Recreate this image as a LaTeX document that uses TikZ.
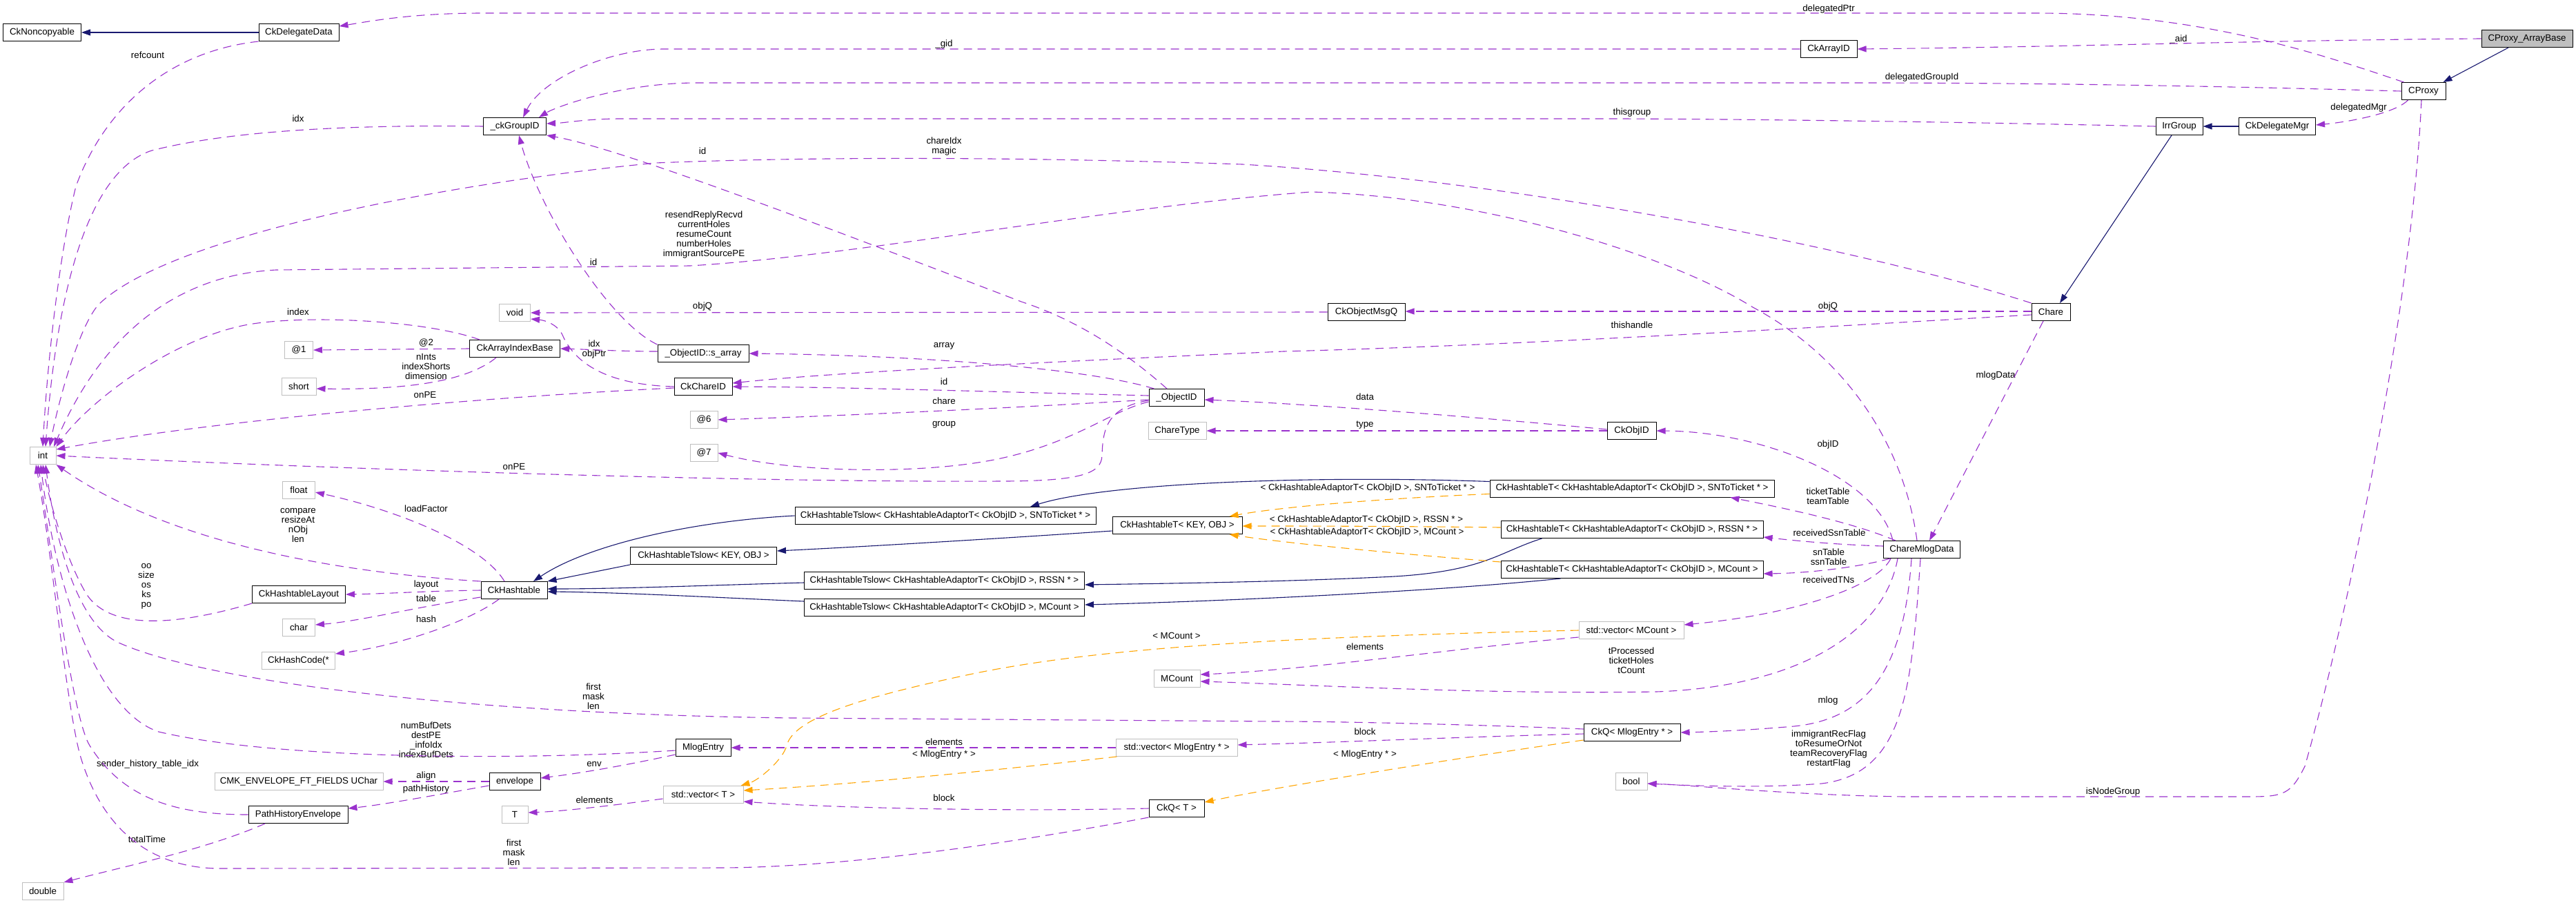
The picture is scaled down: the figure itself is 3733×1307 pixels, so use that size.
\documentclass[tikz,border=0pt]{standalone}
\usepackage{fontspec}
\setmainfont{Liberation Sans}
\usetikzlibrary{arrows.meta}
\definecolor{usecol}{HTML}{9A32CD}
\definecolor{inhcol}{HTML}{191970}
\definecolor{tplcol}{HTML}{FFA500}
\definecolor{boxgray}{HTML}{BFBFBF}
\newcommand\dxf{\fontsize{13.3pt}{14pt}\selectfont}
\begin{document}
\begin{tikzpicture}[x=1pt,y=-1pt,
  cls/.style={draw=black, line width=1pt, minimum height=25pt, inner sep=0pt, font=\dxf},
  ext/.style={cls, draw=boxgray},
  lbl/.style={font=\dxf, align=center, inner sep=0pt},
  edgebase/.style={line width=1.1pt, -{Triangle[length=13pt,width=9pt]}},
  edgeuse/.style={edgebase, draw=usecol, fill=none, dash pattern=on 12pt off 8pt},
  edgeinh/.style={edgebase, draw=inhcol},
  edgetpl/.style={edgebase, draw=tplcol, dash pattern=on 12pt off 8pt}
]
\fill[white] (0,0) rectangle (3733,1307);
\useasboundingbox (0,0) rectangle (3733,1307);

% ---------- class boxes ----------
\node[cls, minimum width=113pt] (nonc) at (61,47) {CkNoncopyable};
\node[cls, minimum width=116pt] (dd) at (433,47) {CkDelegateData};
\node[cls, minimum width=91pt] (gid) at (746,183) {\_ckGroupID};
\node[cls, minimum width=82pt] (aid) at (2650,71) {CkArrayID};
\node[cls, fill=boxgray, minimum width=132pt] (cpab) at (3662,56) {CProxy\_ArrayBase};
\node[cls, minimum width=64pt] (cp) at (3512,132) {CProxy};
\node[cls, minimum width=68pt] (irr) at (3158,183) {IrrGroup};
\node[cls, minimum width=111pt] (dmgr) at (3300,183) {CkDelegateMgr};
\node[cls, minimum width=56pt] (chare) at (2972,452) {Chare};
\node[cls, minimum width=111pt] (cmd) at (2785,796) {ChareMlogData};
\node[ext, minimum width=45pt] (tvoid) at (746,453) {void};
\node[cls, minimum width=131pt] (aib) at (746,505) {CkArrayIndexBase};
\node[ext, minimum width=41pt] (a1) at (433,507) {@1};
\node[ext, minimum width=50pt] (tshort) at (433,560) {short};
\node[ext, minimum width=38pt] (tint) at (62,660) {int};
\node[ext, minimum width=47pt] (tfloat) at (433,710) {float};
\node[cls, minimum width=96pt] (ht) at (745,855) {CkHashtable};
\node[cls, minimum width=135pt] (htl) at (433,861) {CkHashtableLayout};
\node[cls, minimum width=112pt] (omq) at (1980,452) {CkObjectMsgQ};
\node[cls, minimum width=132pt] (sarr) at (1019,512) {\_ObjectID::s\_array};
\node[cls, minimum width=84pt] (cid) at (1019,560) {CkChareID};
\node[cls, minimum width=80pt] (oid) at (1705,576) {\_ObjectID};
\node[ext, minimum width=40pt] (a6) at (1020,608) {@6};
\node[ext, minimum width=84pt] (ctype) at (1706,624) {ChareType};
\node[ext, minimum width=40pt] (a7) at (1020,656) {@7};
\node[cls, minimum width=436pt] (htsSN) at (1370,747) {CkHashtableTslow< CkHashtableAdaptorT< CkObjID >, SNToTicket * >};
\node[cls, minimum width=188pt] (htT) at (1706,761) {CkHashtableT< KEY, OBJ >};
\node[cls, minimum width=212pt] (htsKO) at (1019.5,805) {CkHashtableTslow< KEY, OBJ >};
\node[cls, minimum width=406pt] (htsRS) at (1368.5,841) {CkHashtableTslow< CkHashtableAdaptorT< CkObjID >, RSSN * >};
\node[cls, minimum width=406pt] (htsMC) at (1368.5,880) {CkHashtableTslow< CkHashtableAdaptorT< CkObjID >, MCount >};
\node[cls, minimum width=71pt] (objid) at (2364.5,624) {CkObjID};
\node[cls, minimum width=412pt] (htTSN) at (2365,707.5) {CkHashtableT< CkHashtableAdaptorT< CkObjID >, SNToTicket * >};
\node[cls, minimum width=380pt] (htTRS) at (2365,767) {CkHashtableT< CkHashtableAdaptorT< CkObjID >, RSSN * >};
\node[cls, minimum width=380pt] (htTMC) at (2365,825) {CkHashtableT< CkHashtableAdaptorT< CkObjID >, MCount >};
\node[ext, minimum width=47pt] (tchar) at (433,909) {char};
\node[ext, minimum width=106pt] (hcode) at (432.5,957) {CkHashCode(*};
\node[ext, minimum width=244pt] (cmk) at (433,1132) {CMK\_ENVELOPE\_FT\_FIELDS UChar};
\node[cls, minimum width=74pt] (env) at (746,1132) {envelope};
\node[cls, minimum width=144pt] (phe) at (432,1180) {PathHistoryEnvelope};
\node[ext, minimum width=38pt] (tT) at (746,1180) {T};
\node[ext, minimum width=60pt] (tdouble) at (62,1291) {double};
\node[ext, minimum width=67pt] (mcount) at (1705.5,983) {MCount};
\node[cls, minimum width=80pt] (mle) at (1019,1083) {MlogEntry};
\node[ext, minimum width=176pt] (vmle) at (1705,1083) {std::vector< MlogEntry * >};
\node[ext, minimum width=116pt] (vT) at (1019,1151) {std::vector< T >};
\node[cls, minimum width=80pt] (ckqT) at (1705,1171) {CkQ< T >};
\node[ext, minimum width=152pt] (vmc) at (2364,913) {std::vector< MCount >};
\node[cls, minimum width=140pt] (ckqM) at (2365,1061) {CkQ< MlogEntry * >};
\node[ext, minimum width=46pt] (tbool) at (2364,1132) {bool};

% ---------- labels ----------
\node[lbl] (l01) at (214,80) {refcount};
\node[lbl] (l02) at (432,172) {idx};
\node[lbl] (l03) at (860,380) {id};
\node[lbl] (l04) at (1368,64) {\_gid};
\node[lbl] (l05) at (1368,212) {chareIdx\\magic};
\node[lbl] (l06) at (1018,219) {id};
\node[lbl] (l07) at (1020,340) {resendReplyRecvd\\currentHoles\\resumeCount\\numberHoles\\immigrantSourcePE};
\node[lbl] (l08) at (2650,13) {delegatedPtr};
\node[lbl] (l09) at (2785,112) {delegatedGroupId};
\node[lbl] (l10) at (2365,163) {thisgroup};
\node[lbl] (l11) at (3157,57) {\_aid};
\node[lbl] (l12) at (3418,156) {delegatedMgr};
\node[lbl] (l13) at (2892,544) {mlogData};
\node[lbl] (l14) at (3062,1147) {isNodeGroup};
\node[lbl] (l15) at (432,452) {index};
\node[lbl] (l16) at (617.5,497) {@2};
\node[lbl] (l17) at (617.5,531) {nInts\\indexShorts\\dimension};
\node[lbl] (l18) at (616,572) {onPE};
\node[lbl] (l19) at (861,506) {idx\\objPtr};
\node[lbl] (l20) at (745,676) {onPE};
\node[lbl] (l21) at (432,761) {compare\\resizeAt\\nObj\\len};
\node[lbl] (l22) at (617.5,737) {loadFactor};
\node[lbl] (l23) at (212,849) {oo\\size\\os\\ks\\po};
\node[lbl] (l24) at (617.5,847) {layout};
\node[lbl] (l25) at (617.5,867) {table};
\node[lbl] (l26) at (1018,444) {objQ};
\node[lbl] (l27) at (1368,501) {array};
\node[lbl] (l28) at (1368,553) {id};
\node[lbl] (l29) at (1368,581) {chare};
\node[lbl] (l30) at (1368,615) {group};
\node[lbl] (l31) at (2649,444) {objQ};
\node[lbl] (l32) at (2365,471) {thishandle};
\node[lbl] (l33) at (1978,575) {data};
\node[lbl] (l34) at (1978,616) {type};
\node[lbl] (l35) at (2649,644) {objID};
\node[lbl] (l36) at (1982,707) {< CkHashtableAdaptorT< CkObjID >, SNToTicket * >};
\node[lbl] (l37) at (2649,719) {ticketTable\\teamTable};
\node[lbl] (l38) at (1980,753) {< CkHashtableAdaptorT< CkObjID >, RSSN * >};
\node[lbl] (l39) at (1981,771) {< CkHashtableAdaptorT< CkObjID >, MCount >};
\node[lbl] (l40) at (2651,772) {receivedSsnTable};
\node[lbl] (l41) at (2650,807) {snTable\\ssnTable};
\node[lbl] (l42) at (2650,840) {receivedTNs};
\node[lbl] (l43) at (617.5,897) {hash};
\node[lbl] (l44) at (860,1009) {first\\mask\\len};
\node[lbl] (l45) at (617.5,1072) {numBufDets\\destPE\\\_infoIdx\\indexBufDets};
\node[lbl] (l46) at (214,1107) {sender\_history\_table\_idx};
\node[lbl] (l47) at (861,1107) {env};
\node[lbl] (l48) at (617.5,1124) {align};
\node[lbl] (l49) at (617.5,1143) {pathHistory};
\node[lbl] (l50) at (861.5,1159) {elements};
\node[lbl] (l51) at (213,1216) {totalTime};
\node[lbl] (l52) at (744.6,1235) {first\\mask\\len};
\node[lbl] (l53) at (1705,921) {< MCount >};
\node[lbl] (l54) at (1368,1075) {elements};
\node[lbl] (l55) at (1368,1093) {< MlogEntry * >};
\node[lbl] (l56) at (1368,1156) {block};
\node[lbl] (l57) at (1978,937) {elements};
\node[lbl] (l58) at (2364,957) {tProcessed\\ticketHoles\\tCount};
\node[lbl] (l59) at (2649,1015) {mlog};
\node[lbl] (l60) at (1978,1060) {block};
\node[lbl] (l61) at (1978,1093) {< MlogEntry * >};
\node[lbl] (l62) at (2650,1085) {immigrantRecFlag\\toResumeOrNot\\teamRecoveryFlag\\restartFlag};

% ---------- inheritance ----------
\draw[edgeinh] (dd.west) -- (nonc.east);
\draw[edgeinh] ([xshift=-27pt]cpab.south) -- ([xshift=-4pt]cp.north east);
\draw[edgeinh] (dmgr.west) -- (irr.east);
\draw[edgeinh] ([xshift=-11pt]irr.south) -- ([xshift=13pt]chare.north);
\draw[edgeinh] (htsKO.south west) -- (ht.north east);
\draw[edgeinh] (htsSN.west) .. controls (1000,755) and (850,790) .. ([xshift=28pt]ht.north);
\draw[edgeinh] ([yshift=-3pt]htsRS.west) .. controls (1050,847) and (900,853) .. ([yshift=2pt]ht.east);
\draw[edgeinh] ([yshift=9pt]htsMC.west) .. controls (1050,866) and (900,858) .. ([yshift=-2pt]ht.east);
\draw[edgeinh] ([yshift=-8pt]htT.west) .. controls (1450,780) and (1250,792) .. ([yshift=7pt]htsKO.east);
\draw[edgeinh] ([yshift=10pt]htTSN.west) .. controls (1900,688) and (1600,700) .. ([xshift=123pt]htsSN.north);
\draw[edgeinh] ([xshift=60pt]htTRS.south west) .. controls (2170,800) and (2150,830) .. (2000,836) .. controls (1850,843) and (1700,845) .. ([yshift=-6pt]htsRS.east);
\draw[edgeinh] ([xshift=87pt]htTMC.south west) .. controls (2100,855) and (1800,870) .. ([yshift=4pt]htsMC.east);

% ---------- template instances ----------
\draw[edgetpl] ([yshift=-8pt]htTSN.west) .. controls (2000,722) and (1850,735) .. ([xshift=-19pt]htT.north east);
\draw[edgetpl] ([yshift=3pt]htTRS.west) .. controls (2000,762) and (1900,762) .. ([yshift=-1pt]htT.east);
\draw[edgetpl] ([yshift=11pt]htTMC.west) .. controls (2000,800) and (1850,785) .. ([xshift=-19pt]htT.south east);
\draw[edgetpl] (vmc.west) .. controls (1900,922) and (1600,935) .. (1400,978) .. controls (1250,1010) and (1150,1040) .. (1140,1080) .. controls (1135,1100) and (1100,1130) .. ([xshift=-4pt]vT.north east);
\draw[edgetpl] ([xshift=2pt]vmle.south west) .. controls (1450,1115) and (1250,1135) .. ([yshift=6pt]vT.east);
\draw[edgetpl] ([yshift=2pt]ckqM.south west) .. controls (2100,1100) and (1850,1140) .. ([yshift=-4pt]ckqT.north east);

% ---------- usage ----------
\draw[edgeuse] ([xshift=4pt]cp.north west) .. controls (3380,85) and (3200,19) .. (2950,19) -- (700,19) .. controls (600,19) and (540,30) .. ([yshift=9pt]dd.east);
\draw[edgeuse] (cpab.west) .. controls (3300,58) and (3000,68) .. (aid.east);
\draw[edgeuse] (aid.west) -- (960,71) .. controls (880,72) and (785,115) .. ([xshift=12pt]gid.north);
\draw[edgeuse] (cp.west) .. controls (3300,127) and (3000,120) .. (2700,120) -- (1010,120) .. controls (900,120) and (805,155) .. ([xshift=35pt]gid.north);
\draw[edgeuse] (irr.west) .. controls (2900,178) and (2600,173) .. (2350,172) -- (900,172) .. controls (850,172) and (820,178) .. ([yshift=4pt]gid.east);
\draw[edgeuse] ([xshift=10pt]cp.south west) .. controls (3470,165) and (3400,177) .. ([yshift=2pt]dmgr.east);
\draw[edgeuse] (chare.north west) .. controls (2700,360) and (2200,262) .. (1800,238) .. controls (1500,228) and (1200,226) .. (950,236) .. controls (650,265) and (250,340) .. (144,440) .. controls (115,470) and (85,580) .. ([xshift=10pt]tint.north);
\draw[edgeuse] ([xshift=-7pt]cmd.north) .. controls (2760,650) and (2680,520) .. (2540,445) .. controls (2420,370) and (2150,285) .. (1900,278) .. controls (1600,300) and (1250,370) .. (1000,385) -- (400,391) .. controls (260,398) and (150,480) .. ([xshift=16pt]tint.north);
\draw[edgeuse] ([xshift=-11pt]chare.south) -- ([xshift=11pt]cmd.north);
\draw[edgeuse] ([xshift=-3pt]cp.south) .. controls (3495,450) and (3400,900) .. (3340,1110) .. controls (3320,1150) and (3310,1154) .. (3260,1154) -- (2760,1154) .. controls (2600,1152) and (2450,1137) .. ([yshift=-3pt]tbool.east);
\draw[edgeuse] ([yshift=1pt]chare.west) -- ([yshift=1pt]omq.east);
\draw[edgeuse] ([yshift=-4pt]chare.west) .. controls (2600,476) and (2200,500) .. (1860,509) .. controls (1500,525) and (1200,540) .. ([yshift=5pt]cid.east);
\draw[edgeuse] (omq.west) -- (tvoid.east);
\draw[edgeuse] (cid.west) .. controls (870,557) and (830,520) .. (815,485) .. controls (808,470) and (790,464) .. ([yshift=4pt]tvoid.south east);
\draw[edgeuse] ([yshift=-2pt]cid.west) .. controls (700,575) and (300,610) .. ([yshift=-4pt]tint.north east);
\draw[edgeuse] ([yshift=-4pt]oid.west) .. controls (1605,590) and (1598,620) .. (1597,660) .. controls (1596,685) and (1570,697) .. (1450,697) .. controls (1100,699) and (500,680) .. (tint.east);
\draw[edgeuse] ([xshift=8pt]oid.north west) .. controls (1580,535) and (1350,515) .. (sarr.east);
\draw[edgeuse] ([yshift=3pt]oid.west) .. controls (1450,568) and (1250,561) .. (cid.east);
\draw[edgeuse] ([yshift=-3pt]oid.west) .. controls (1450,592) and (1200,603) .. (a6.east);
\draw[edgeuse] ([yshift=-6pt]oid.west) .. controls (1610,595) and (1560,640) .. (1450,664) .. controls (1340,688) and (1150,685) .. (a7.east);
\draw[edgeuse] ([xshift=-14pt]oid.north) .. controls (1620,500) and (1550,460) .. (1480,437) .. controls (1200,330) and (900,215) .. (gid.south east);
\draw[edgeuse] (sarr.north west) .. controls (880,465) and (780,300) .. ([xshift=6pt]gid.south);
\draw[edgeuse] ([yshift=3pt]sarr.west) .. controls (900,509) and (850,506) .. (aib.east);
\draw[edgeuse] (aib.west) -- (a1.east);
\draw[edgeuse] ([xshift=-27pt]aib.south) .. controls (680,550) and (600,565) .. ([yshift=-3pt]tshort.east);
\draw[edgeuse] ([xshift=-51pt]aib.north) .. controls (620,465) and (450,455) .. (360,470) .. controls (250,490) and (130,580) .. (tint.north east);
\draw[edgeuse] (gid.west) .. controls (550,181) and (350,185) .. (220,218) .. controls (120,250) and (80,450) .. ([xshift=4pt]tint.north);
\draw[edgeuse] (dd.south west) .. controls (240,75) and (150,160) .. (110,270) .. controls (90,350) and (70,500) .. (tint.north);
\draw[edgeuse] (ht.north west) .. controls (500,830) and (250,790) .. (tint.south east);
\draw[edgeuse] ([xshift=-14pt]ht.north) .. controls (700,790) and (580,740) .. ([yshift=-3pt]tfloat.east);
\draw[edgeuse] (ht.west) .. controls (620,856) and (560,860) .. (htl.east);
\draw[edgeuse] ([yshift=-10pt]ht.west) .. controls (600,880) and (520,900) .. ([yshift=4pt]tchar.east);
\draw[edgeuse] ([xshift=-22pt]ht.south) .. controls (680,900) and (580,935) .. ([yshift=-3pt]hcode.north east);
\draw[edgeuse] (htl.south west) .. controls (260,905) and (160,915) .. (125,860) .. controls (95,810) and (70,720) .. (tint.south);
\draw[edgeuse] ([yshift=5pt]ckqM.west) .. controls (2150,1050) and (1950,1045) .. (1850,1045) -- (1150,1040) .. controls (700,1035) and (300,990) .. (170,930) .. controls (110,900) and (80,780) .. ([xshift=4pt]tint.south);
\draw[edgeuse] ([yshift=-4pt]mle.west) .. controls (750,1102) and (400,1100) .. (230,1060) .. controls (140,1030) and (80,850) .. ([xshift=-3pt]tint.south);
\draw[edgeuse] (phe.west) .. controls (260,1180) and (180,1160) .. (130,1080) .. controls (105,1040) and (75,800) .. ([xshift=-7pt]tint.south);
\draw[edgeuse] ([xshift=-48pt]phe.south) .. controls (300,1230) and (180,1255) .. (tdouble.north east);
\draw[edgeuse] (ckqT.south west) .. controls (1500,1215) and (1250,1255) .. (1050,1257) -- (320,1258) .. controls (200,1258) and (140,1180) .. (115,1090) .. controls (95,1010) and (75,800) .. ([xshift=-10pt]tint.south);
\draw[edgeuse] ([yshift=-10pt]mle.west) .. controls (900,1110) and (840,1120) .. ([yshift=5pt]env.east);
\draw[edgeuse] (env.west) -- (cmk.east);
\draw[edgeuse] ([yshift=-6pt]env.west) .. controls (640,1150) and (560,1165) .. ([yshift=9pt]phe.east);
\draw[edgeuse] ([yshift=-6pt]vT.west) .. controls (900,1165) and (820,1175) .. ([yshift=3pt]tT.east);
\draw[edgeuse] (vmle.west) -- (mle.east);
\draw[edgeuse] ([yshift=-10pt]vmc.west) .. controls (2100,940) and (1900,970) .. ([yshift=6pt]mcount.east);
\draw[edgeuse] ([xshift=-35pt]cmd.south) .. controls (2730,920) and (2600,995) .. (2400,1002) .. controls (2150,1006) and (1900,992) .. ([yshift=-4pt]mcount.east);
\draw[edgeuse] ([xshift=-15pt]cmd.south) .. controls (2760,950) and (2720,1040) .. (2600,1052) .. controls (2530,1058) and (2480,1060) .. (ckqM.east);
\draw[edgeuse] ([xshift=-2pt]cmd.south) .. controls (2770,1000) and (2760,1120) .. (2640,1135) .. controls (2550,1142) and (2450,1138) .. ([yshift=-3pt]tbool.east);
\draw[edgeuse] ([xshift=-45pt]cmd.south) .. controls (2720,850) and (2600,890) .. ([yshift=8pt]vmc.east);
\draw[edgeuse] ([xshift=10pt]cmd.south west) .. controls (2700,820) and (2630,830) .. ([yshift=-6pt]htTMC.east);
\draw[edgeuse] ([yshift=5pt]cmd.west) .. controls (2660,789) and (2600,783) .. ([yshift=2pt]htTRS.south east);
\draw[edgeuse] ([xshift=18pt]cmd.north west) .. controls (2680,755) and (2580,735) .. ([xshift=-64pt]htTSN.south east);
\draw[edgeuse] ([xshift=14pt]cmd.north west) .. controls (2720,690) and (2550,625) .. (objid.east);
\draw[edgeuse] ([yshift=2pt]objid.west) .. controls (2150,605) and (1900,585) .. ([yshift=-3pt]oid.east);
\draw[edgeuse] (objid.west) -- (ctype.east);
\draw[edgeuse] ([yshift=-2pt]ckqM.west) .. controls (2100,1068) and (1950,1075) .. ([yshift=4pt]vmle.east);
\draw[edgeuse] (ckqT.west) .. controls (1450,1176) and (1200,1170) .. ([yshift=-10pt]vT.east);
\end{tikzpicture}
\end{document}
